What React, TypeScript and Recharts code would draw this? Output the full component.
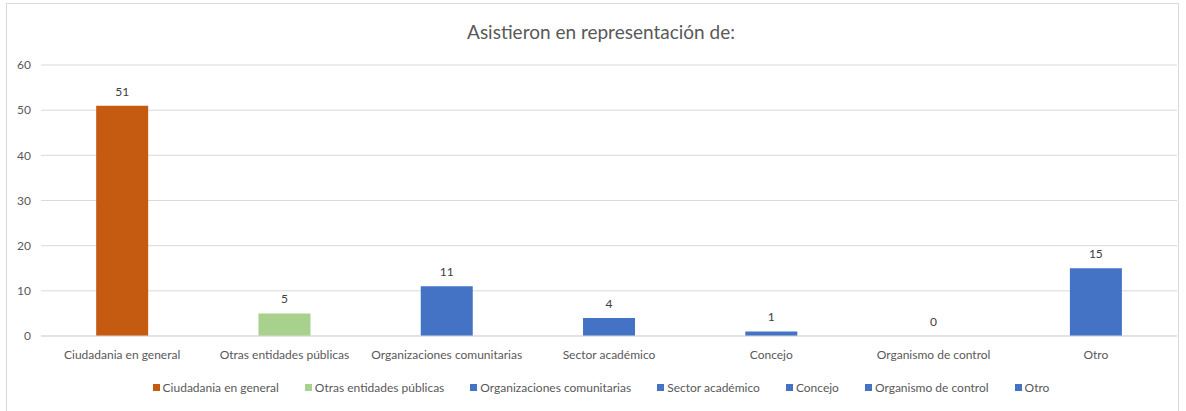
import { ComposedChart, Bar, Line, XAxis, YAxis, CartesianGrid, Legend, LabelList, Cell } from 'recharts';

const categories = [
  'Ciudadania en general',
  'Otras entidades públicas',
  'Organizaciones comunitarias',
  'Sector académico',
  'Concejo',
  'Organismo de control',
  'Otro',
];
const values = [51, 5, 11, 4, 1, 0, 15];
const colors = ['#C55A11', '#A9D18E', '#4472C4', '#4472C4', '#4472C4', '#4472C4', '#4472C4'];
const yTicks = [0, 10, 20, 30, 40, 50, 60];
const title = 'Asistieron en representación de:';

const data = categories.map((name, i) => ({ name, value: values[i] }));

const FONT = 'Lato, "Open Sans", sans-serif';

const renderLegend = () => (
  <div style={{ display: 'flex', justifyContent: 'center', paddingLeft: 16, fontFamily: FONT, fontSize: 12, color: '#595959' }}>
    {categories.map((c, i) => (
      <span key={c} style={{ display: 'flex', alignItems: 'center', marginRight: i < categories.length - 1 ? 26 : 0 }}>
        <span style={{ display: 'inline-block', width: 7, height: 7, background: colors[i], marginRight: 3 }} />
        {c}
      </span>
    ))}
  </div>
);

const App = () => {
  return (
    <div style={{ position: 'absolute', left: 0, top: 0, width: 1186, height: 411, background: '#fff', overflow: 'hidden' }}>
      <div
        style={{
          position: 'absolute',
          left: 6,
          top: 3,
          width: 1173,
          height: 420,
          border: '1px solid #d9d9d9',
          boxSizing: 'border-box',
        }}
      />
      <div
        style={{
          position: 'absolute',
          left: 0,
          top: 20,
          width: 1202,
          textAlign: 'center',
          fontFamily: FONT,
          fontSize: 19,
          color: '#595959',
        }}
      >
        {title}
      </div>
      <div style={{ position: 'absolute', left: 0, top: 0 }}>
        <ComposedChart width={1186} height={411} data={data} margin={{ top: 65, right: 9, bottom: 30, left: 0 }} barCategoryGap="34%">
          <CartesianGrid vertical={false} stroke="#d9d9d9" />
          <XAxis
            dataKey="name"
            height={30}
            interval={0}
            tickLine={false}
            axisLine={{ stroke: '#d9d9d9' }}
            tickMargin={8}
            tick={{ fill: '#595959', fontSize: 12, fontFamily: FONT }}
          />
          <YAxis
            width={41}
            domain={[0, 60]}
            ticks={yTicks}
            tickLine={false}
            axisLine={false}
            tickMargin={4}
            tick={{ fill: '#595959', fontSize: 12, fontFamily: FONT }}
          />
          <Legend content={renderLegend} wrapperStyle={{ position: 'absolute', top: 380, left: 0, width: 1186 }} />
          <Bar dataKey="value" isAnimationActive={false}>
            {data.map((d, i) => (
              <Cell key={d.name} fill={colors[i]} />
            ))}
          </Bar>
          <Line dataKey="value" stroke="none" dot={false} activeDot={false} legendType="none" isAnimationActive={false}>
            <LabelList dataKey="value" position="top" offset={10} fill="#404040" fontSize={12} fontFamily={FONT} />
          </Line>
        </ComposedChart>
      </div>
    </div>
  );
};

export default App;
